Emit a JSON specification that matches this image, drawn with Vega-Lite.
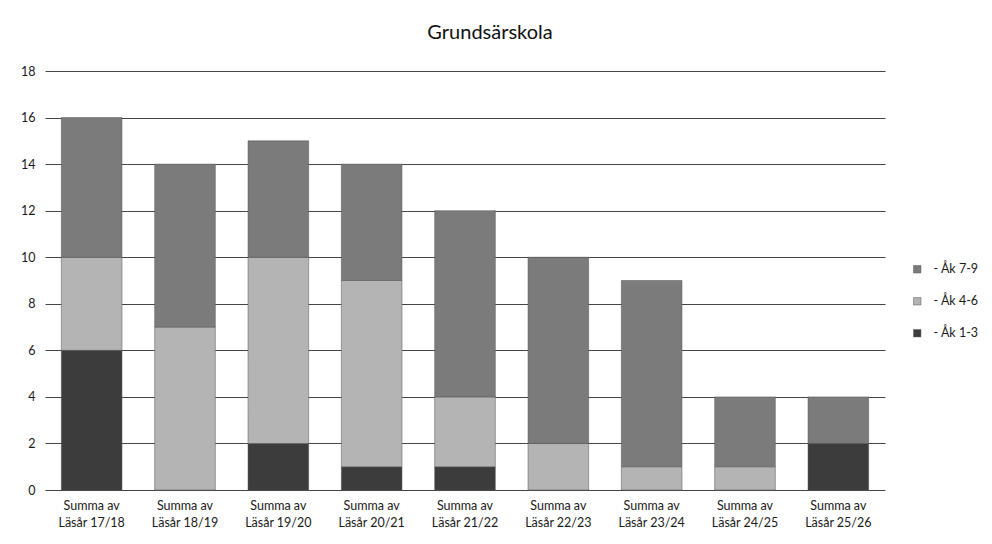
{
  "$schema": "https://vega.github.io/schema/vega-lite/v6.json",
  "width": 840,
  "height": 419,
  "autosize": {"type": "none"},
  "padding": {"left": 45, "top": 71, "right": 107, "bottom": 54},
  "background": "white",
  "title": {"text": "Grundsärskola", "font": "Lato", "fontSize": 20, "fontWeight": "normal", "color": "#111", "offset": 22, "dx": 25, "anchor": "middle"},
  "data": {"values": [
    {"lasar": "Läsår 17/18", "grupp": "- Åk 1-3", "ord": 1, "antal": 6},
    {"lasar": "Läsår 17/18", "grupp": "- Åk 4-6", "ord": 2, "antal": 4},
    {"lasar": "Läsår 17/18", "grupp": "- Åk 7-9", "ord": 3, "antal": 6},
    {"lasar": "Läsår 18/19", "grupp": "- Åk 1-3", "ord": 1, "antal": 0},
    {"lasar": "Läsår 18/19", "grupp": "- Åk 4-6", "ord": 2, "antal": 7},
    {"lasar": "Läsår 18/19", "grupp": "- Åk 7-9", "ord": 3, "antal": 7},
    {"lasar": "Läsår 19/20", "grupp": "- Åk 1-3", "ord": 1, "antal": 2},
    {"lasar": "Läsår 19/20", "grupp": "- Åk 4-6", "ord": 2, "antal": 8},
    {"lasar": "Läsår 19/20", "grupp": "- Åk 7-9", "ord": 3, "antal": 5},
    {"lasar": "Läsår 20/21", "grupp": "- Åk 1-3", "ord": 1, "antal": 1},
    {"lasar": "Läsår 20/21", "grupp": "- Åk 4-6", "ord": 2, "antal": 8},
    {"lasar": "Läsår 20/21", "grupp": "- Åk 7-9", "ord": 3, "antal": 5},
    {"lasar": "Läsår 21/22", "grupp": "- Åk 1-3", "ord": 1, "antal": 1},
    {"lasar": "Läsår 21/22", "grupp": "- Åk 4-6", "ord": 2, "antal": 3},
    {"lasar": "Läsår 21/22", "grupp": "- Åk 7-9", "ord": 3, "antal": 8},
    {"lasar": "Läsår 22/23", "grupp": "- Åk 1-3", "ord": 1, "antal": 0},
    {"lasar": "Läsår 22/23", "grupp": "- Åk 4-6", "ord": 2, "antal": 2},
    {"lasar": "Läsår 22/23", "grupp": "- Åk 7-9", "ord": 3, "antal": 8},
    {"lasar": "Läsår 23/24", "grupp": "- Åk 1-3", "ord": 1, "antal": 0},
    {"lasar": "Läsår 23/24", "grupp": "- Åk 4-6", "ord": 2, "antal": 1},
    {"lasar": "Läsår 23/24", "grupp": "- Åk 7-9", "ord": 3, "antal": 8},
    {"lasar": "Läsår 24/25", "grupp": "- Åk 1-3", "ord": 1, "antal": 0},
    {"lasar": "Läsår 24/25", "grupp": "- Åk 4-6", "ord": 2, "antal": 1},
    {"lasar": "Läsår 24/25", "grupp": "- Åk 7-9", "ord": 3, "antal": 3},
    {"lasar": "Läsår 25/26", "grupp": "- Åk 1-3", "ord": 1, "antal": 2},
    {"lasar": "Läsår 25/26", "grupp": "- Åk 4-6", "ord": 2, "antal": 0},
    {"lasar": "Läsår 25/26", "grupp": "- Åk 7-9", "ord": 3, "antal": 2}
  ]},
  "mark": {"type": "bar", "stroke": "#555", "strokeWidth": 0.5},
  "encoding": {
    "x": {
      "field": "lasar", "type": "nominal", "sort": null,
      "scale": {"paddingInner": 0.35, "paddingOuter": 0.175},
      "axis": {"title": null, "labelAngle": 0, "labelExpr": "['Summa av', datum.label]", "labelFont": "Lato", "labelFontSize": 12.5, "labelColor": "#1a1a1a", "labelPadding": 9, "labelLineHeight": 17, "ticks": false, "domain": false}
    },
    "y": {
      "field": "antal", "type": "quantitative", "stack": "zero",
      "scale": {"domain": [0, 18], "nice": false},
      "axis": {"title": null, "values": [0, 2, 4, 6, 8, 10, 12, 14, 16, 18], "labelFont": "Lato", "labelFontSize": 12.5, "labelColor": "#1a1a1a", "labelPadding": 10, "ticks": false, "domain": false, "grid": true, "gridColor": "#444", "gridWidth": 1}
    },
    "color": {
      "field": "grupp", "type": "nominal",
      "scale": {"domain": ["- Åk 7-9", "- Åk 4-6", "- Åk 1-3"], "range": ["#7b7b7b", "#b4b4b4", "#3c3c3c"]},
      "legend": {"title": null, "orient": "none", "legendX": 866, "legendY": 192, "symbolType": "square", "symbolSize": 55, "symbolStrokeColor": "#555", "symbolStrokeWidth": 0.5, "labelFont": "Lato", "labelFontSize": 12.5, "labelColor": "#1a1a1a", "rowPadding": 19, "labelOffset": 10}
    },
    "order": {"field": "ord", "type": "quantitative", "sort": "ascending"}
  },
  "config": {"view": {"stroke": null}}
}
